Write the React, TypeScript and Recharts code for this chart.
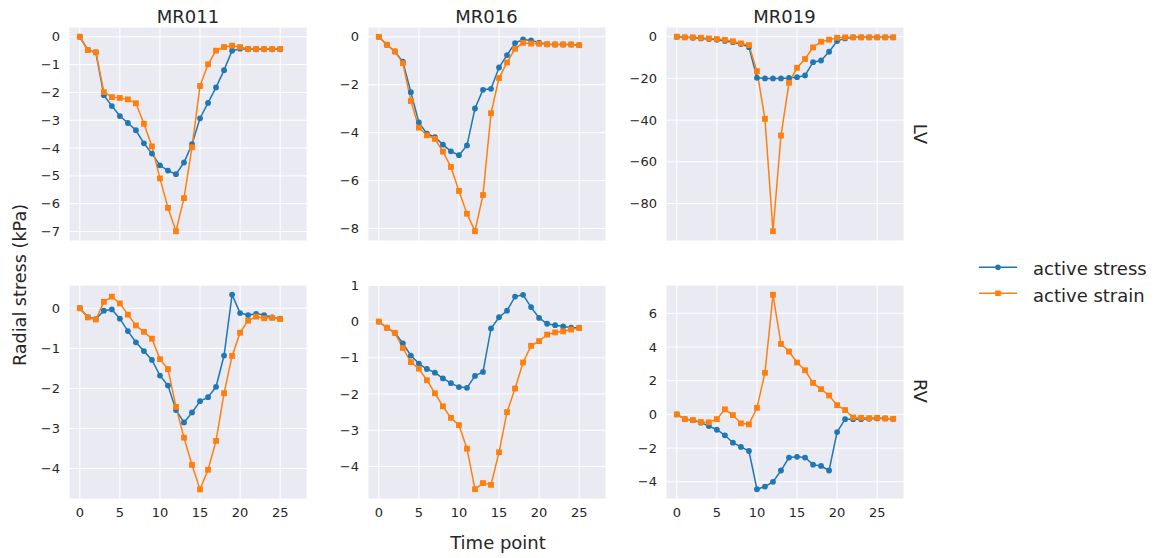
import { LineChart, Line, XAxis, YAxis, CartesianGrid } from "recharts";

const BLUE = "#1f77b4";
const ORANGE = "#ff7f0e";
const FONT = "'DejaVu Sans', sans-serif";
const TEXT = "#262626";

// time points per subject
const time26 = [0, 1, 2, 3, 4, 5, 6, 7, 8, 9, 10, 11, 12, 13, 14, 15, 16, 17, 18, 19, 20, 21, 22, 23, 24, 25];
const time28 = [0, 1, 2, 3, 4, 5, 6, 7, 8, 9, 10, 11, 12, 13, 14, 15, 16, 17, 18, 19, 20, 21, 22, 23, 24, 25, 26, 27];
const xTicks = [0, 5, 10, 15, 20, 25];

const subjects = ["MR011", "MR016", "MR019"];
const chambers = ["LV", "RV"];
const seriesNames = ["active stress", "active strain"];

// LV radial stress (kPa)
const mr011LvStress = [0, -0.48, -0.56, -2.1, -2.49, -2.85, -3.1, -3.36, -3.83, -4.2, -4.62, -4.81, -4.94, -4.52, -3.86, -2.93, -2.38, -1.82, -1.2, -0.5, -0.43, -0.45, -0.45, -0.45, -0.45, -0.45];
const mr011LvStrain = [0, -0.48, -0.56, -1.99, -2.17, -2.2, -2.25, -2.39, -3.13, -3.94, -5.09, -6.15, -6.99, -5.8, -3.97, -1.77, -0.99, -0.5, -0.37, -0.32, -0.37, -0.44, -0.44, -0.44, -0.44, -0.44];
const mr016LvStress = [0, -0.33, -0.61, -1.04, -2.31, -3.57, -4.04, -4.19, -4.5, -4.78, -4.94, -4.53, -2.99, -2.21, -2.17, -1.28, -0.76, -0.26, -0.11, -0.15, -0.24, -0.31, -0.32, -0.32, -0.32, -0.35];
const mr016LvStrain = [0, -0.33, -0.61, -1.1, -2.68, -3.79, -4.11, -4.26, -4.79, -5.43, -6.43, -7.38, -8.11, -6.6, -3.19, -1.72, -1.07, -0.5, -0.25, -0.28, -0.29, -0.31, -0.32, -0.32, -0.32, -0.35];
const mr019LvStress = [0, -0.3, -0.5, -0.8, -1.1, -1.5, -2.0, -2.6, -3.5, -5.0, -19.7, -20, -20, -20, -19.8, -19.4, -18.6, -12.2, -11.4, -7.2, -2.1, -0.8, -0.3, -0.3, -0.3, -0.3, -0.3, -0.3];
const mr019LvStrain = [0, -0.3, -0.3, -0.5, -0.8, -1.1, -1.5, -2.2, -3.2, -4.0, -16.5, -39.4, -93.3, -47.4, -22.1, -14.9, -10.7, -5.1, -2.4, -1.4, -0.5, -0.3, -0.3, -0.3, -0.3, -0.3, -0.3, -0.3];

// RV radial stress (kPa)
const mr011RvStress = [0, -0.22, -0.27, -0.06, -0.03, -0.26, -0.57, -0.85, -1.07, -1.29, -1.68, -1.93, -2.54, -2.85, -2.6, -2.32, -2.22, -1.96, -1.18, 0.34, -0.12, -0.17, -0.14, -0.17, -0.23, -0.26];
const mr011RvStrain = [0, -0.23, -0.28, 0.16, 0.29, 0.12, -0.16, -0.43, -0.59, -0.76, -1.27, -1.52, -2.46, -3.23, -3.91, -4.52, -4.03, -3.31, -2.12, -1.19, -0.61, -0.31, -0.21, -0.25, -0.24, -0.27];
const mr016RvStress = [0, -0.17, -0.31, -0.6, -0.94, -1.16, -1.31, -1.41, -1.57, -1.7, -1.81, -1.83, -1.5, -1.39, -0.19, 0.12, 0.3, 0.69, 0.74, 0.4, 0.1, -0.06, -0.1, -0.13, -0.17, -0.17];
const mr016RvStrain = [0, -0.17, -0.31, -0.73, -1.12, -1.3, -1.62, -1.98, -2.34, -2.66, -2.86, -3.51, -4.63, -4.46, -4.51, -3.61, -2.5, -1.85, -1.13, -0.67, -0.54, -0.36, -0.3, -0.27, -0.22, -0.18];
const mr019RvStress = [0, -0.28, -0.34, -0.49, -0.69, -0.91, -1.24, -1.68, -1.93, -2.17, -4.44, -4.28, -4.0, -3.33, -2.56, -2.52, -2.56, -2.98, -3.06, -3.33, -1.05, -0.28, -0.28, -0.28, -0.26, -0.24, -0.24, -0.26];
const mr019RvStrain = [0, -0.28, -0.34, -0.45, -0.47, -0.28, 0.3, -0.04, -0.53, -0.59, 0.39, 2.47, 7.1, 4.18, 3.73, 3.08, 2.62, 1.87, 1.5, 1.12, 0.55, 0.26, -0.18, -0.2, -0.22, -0.2, -0.24, -0.26];

// y tick labels per panel
const mr011LvTicks = [0, -1, -2, -3, -4, -5, -6, -7];
const mr016LvTicks = [0, -2, -4, -6, -8];
const mr019LvTicks = [0, -20, -40, -60, -80];
const mr011RvTicks = [0, -1, -2, -3, -4];
const mr016RvTicks = [1, 0, -1, -2, -3, -4];
const mr019RvTicks = [-4, -2, 0, 2, 4, 6];

// layout
const PLOT_LEFT = [69, 367.5, 665.5];
const PLOT_TOP = [27, 285];
const PW = 238;
const PH = 214;
const YW = 60;
const XH = 30;
const PAD = 12; // room above the plot so edge tick labels are not clipped

const minus = (v: number) => String(v).replace("-", "\u2212");

const Square = (props: any) => {
  const { cx, cy, index } = props;
  if (cx == null || cy == null) return <g key={index} />;
  return <rect key={index} x={cx - 2.9} y={cy - 2.9} width={5.8} height={5.8} fill={ORANGE} />;
};

type PanelProps = {
  col: number;
  row: number;
  time: number[];
  stress: number[];
  strain: number[];
  domain: [number, number];
  ticks: number[];
};

function Panel({ col, row, time, stress, strain, domain, ticks }: PanelProps) {
  const data = time.map((t, i) => ({ t, stress: stress[i], strain: strain[i] }));
  const showX = row === 1;
  return (
    <div style={{ position: "absolute", left: PLOT_LEFT[col] - YW, top: PLOT_TOP[row] - PAD }}>
      <LineChart
        width={YW + PW}
        height={PAD + PH + (showX ? XH : 0)}
        data={data}
        margin={{ top: PAD, right: 0, bottom: 0, left: 0 }}
      >
        <CartesianGrid fill="#eaeaf2" stroke="#ffffff" strokeWidth={1} />
        <XAxis
          dataKey="t"
          type="number"
          domain={[-1.35, 28.35]}
          ticks={xTicks}
          interval={0}
          hide={!showX}
          height={XH}
          axisLine={false}
          tickLine={false}
          tickSize={0}
          tickMargin={9}
          tick={{ fill: TEXT, fontSize: 13, fontFamily: FONT }}
        />
        <YAxis
          type="number"
          domain={domain}
          ticks={ticks}
          interval={0}
          width={YW}
          axisLine={false}
          tickLine={false}
          tickSize={0}
          tickMargin={9}
          tickFormatter={minus}
          tick={{ fill: TEXT, fontSize: 13, fontFamily: FONT }}
        />
        <Line
          dataKey="stress"
          type="linear"
          stroke={BLUE}
          strokeWidth={1.5}
          dot={{ r: 2.9, fill: BLUE, stroke: BLUE, strokeWidth: 0 }}
          activeDot={false}
          isAnimationActive={false}
        />
        <Line
          dataKey="strain"
          type="linear"
          stroke={ORANGE}
          strokeWidth={1.5}
          dot={Square}
          activeDot={false}
          isAnimationActive={false}
        />
      </LineChart>
    </div>
  );
}

export default function App() {
  return (
    <div
      style={{
        position: "absolute",
        left: 0,
        top: 0,
        width: 1159,
        height: 558,
        background: "#ffffff",
        fontFamily: FONT,
      }}
    >
      <Panel col={0} row={0} time={time26} stress={mr011LvStress} strain={mr011LvStrain} domain={[-7.34, 0.35]} ticks={mr011LvTicks} />
      <Panel col={1} row={0} time={time26} stress={mr016LvStress} strain={mr016LvStrain} domain={[-8.52, 0.41]} ticks={mr016LvTicks} />
      <Panel col={2} row={0} time={time28} stress={mr019LvStress} strain={mr019LvStrain} domain={[-98, 4.67]} ticks={mr019LvTicks} />
      <Panel col={0} row={1} time={time26} stress={mr011RvStress} strain={mr011RvStrain} domain={[-4.76, 0.58]} ticks={mr011RvTicks} />
      <Panel col={1} row={1} time={time26} stress={mr016RvStress} strain={mr016RvStrain} domain={[-4.9, 1.01]} ticks={mr016RvTicks} />
      <Panel col={2} row={1} time={time28} stress={mr019RvStress} strain={mr019RvStrain} domain={[-5.02, 7.68]} ticks={mr019RvTicks} />

      {/* titles, axis labels, row labels and legend */}
      <svg
        width={1159}
        height={558}
        style={{ position: "absolute", left: 0, top: 0, pointerEvents: "none" }}
        fontFamily={FONT}
        fill={TEXT}
      >
        {subjects.map((s, i) => (
          <text key={s} x={PLOT_LEFT[i] + PW / 2} y={23} fontSize={18} textAnchor="middle">
            {s}
          </text>
        ))}
        <text x={498} y={548.5} fontSize={18} textAnchor="middle">
          Time point
        </text>
        <text transform="translate(26, 285) rotate(-90)" fontSize={17.6} textAnchor="middle">
          Radial stress (kPa)
        </text>
        <text transform="translate(914, 134) rotate(90)" fontSize={18} textAnchor="middle">
          {chambers[0]}
        </text>
        <text transform="translate(914, 391) rotate(90)" fontSize={18} textAnchor="middle">
          {chambers[1]}
        </text>

        <line x1={979} x2={1017} y1={267.3} y2={267.3} stroke={BLUE} strokeWidth={1.5} />
        <circle cx={998} cy={267.3} r={2.8} fill={BLUE} />
        <text x={1033} y={275} fontSize={18}>
          {seriesNames[0]}
        </text>
        <line x1={979} x2={1017} y1={293.3} y2={293.3} stroke={ORANGE} strokeWidth={1.5} />
        <rect x={995.2} y={290.5} width={5.6} height={5.6} fill={ORANGE} />
        <text x={1033} y={301.5} fontSize={18}>
          {seriesNames[1]}
        </text>
      </svg>
    </div>
  );
}
